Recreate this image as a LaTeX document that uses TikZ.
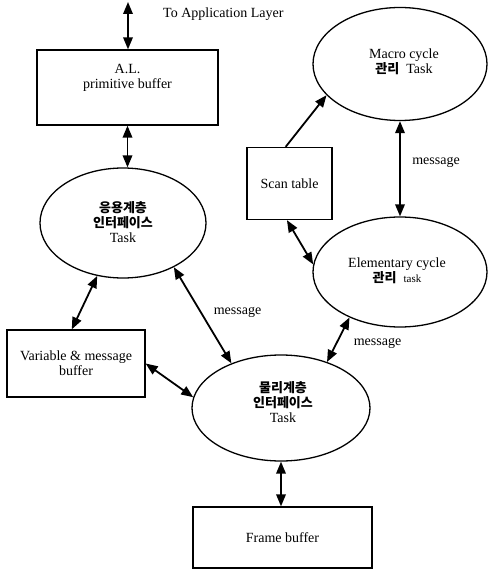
\documentclass[tikz,border=0pt]{standalone}
\usepackage{fontspec}
\setmainfont{Liberation Serif}
\newfontfamily\kofont{Noto Sans CJK KR}
\newcommand\kotext[1]{{\kofont\bfseries\fontsize{13}{15}\selectfont #1}}
\usetikzlibrary{shapes.geometric,arrows.meta}

\tikzset{
  every node/.style={font=\fontsize{14}{15}\selectfont},
  boxnode/.style={draw,line width=1.3pt,rectangle,inner sep=0pt},
  tasknode/.style={draw,line width=1.3pt,ellipse,inner sep=0pt},
  tip/.style={Triangle[length=12pt,width=9.5pt]},
  link/.style={line width=1.8pt,{Triangle[length=12pt,width=9.5pt]}-{Triangle[length=12pt,width=9.5pt]}},
  onelink/.style={line width=1.8pt,-{Triangle[length=12pt,width=9.5pt]}},
  lbl/.style={inner sep=0pt,align=center}
}

\begin{document}
\begin{tikzpicture}[x=1pt,y=-1pt]
\useasboundingbox (0,0) rectangle (489,572);

% buffers and tables
\node[boxnode,minimum width=181pt,minimum height=75pt] (al) at (127.5,87.5) {};
\node[lbl] (altext) at (127.5,78) {A.L.\\primitive buffer};
\node[boxnode,minimum width=85pt,minimum height=72pt] (scan) at (289.5,183.5) {Scan table};
\node[boxnode,minimum width=138pt,minimum height=67pt,align=center] (var) at (76,363.5) {Variable \& message\\buffer};
\node[boxnode,minimum width=179pt,minimum height=61pt] (frame) at (282.5,537.5) {Frame buffer};

% tasks
\node[tasknode,minimum width=166pt,minimum height=110pt] (app) at (123,223) {};
\node[lbl] (apptext) at (123,222) {\kotext{응용계층}\\\kotext{인터페이스}\\Task};
\node[tasknode,minimum width=174pt,minimum height=113pt] (macro) at (400,64) {};
\node[lbl] (macrotext) at (404,62) {Macro cycle\\\kotext{관리}\ \ Task};
\node[tasknode,minimum width=174pt,minimum height=110pt] (elem) at (400,272) {};
\node[lbl] (elemtext) at (397,271) {Elementary cycle\\\kotext{관리}\ \ {\fontsize{11}{15}\selectfont task}};
\node[tasknode,minimum width=178pt,minimum height=106pt] (phys) at (281,408) {};
\node[lbl] (phystext) at (283,402) {\kotext{물리계층}\\\kotext{인터페이스}\\Task};

% external side
\coordinate (ext) at (128,2);
\node[lbl,anchor=west] (exttext) at (163,14) {To Application Layer};

% message labels
\node[lbl] (msg1) at (237.5,312) {message};
\node[lbl] (msg2) at (436,162) {message};
\node[lbl] (msg3) at (377.5,343) {message};

% connectors
\draw[link] (ext) -- (ext |- al.north);
\draw[link] (al.south) -- (al.south |- app.north);
\draw[link] (app.-116) -- (var.97);
\draw[link] (app.-41) -- (phys.138);
\draw[link] (var.east) -- (phys.173);
\draw[link] (elem.-138) -- (phys.45);
\draw[link] (phys.south) -- (phys.south |- frame.north);
\draw[onelink] (scan.96) -- (macro.203);
\draw[link] (scan.-94) -- (elem.175);
\draw[link] (macro.south) -- (elem.north);
\end{tikzpicture}
\end{document}
